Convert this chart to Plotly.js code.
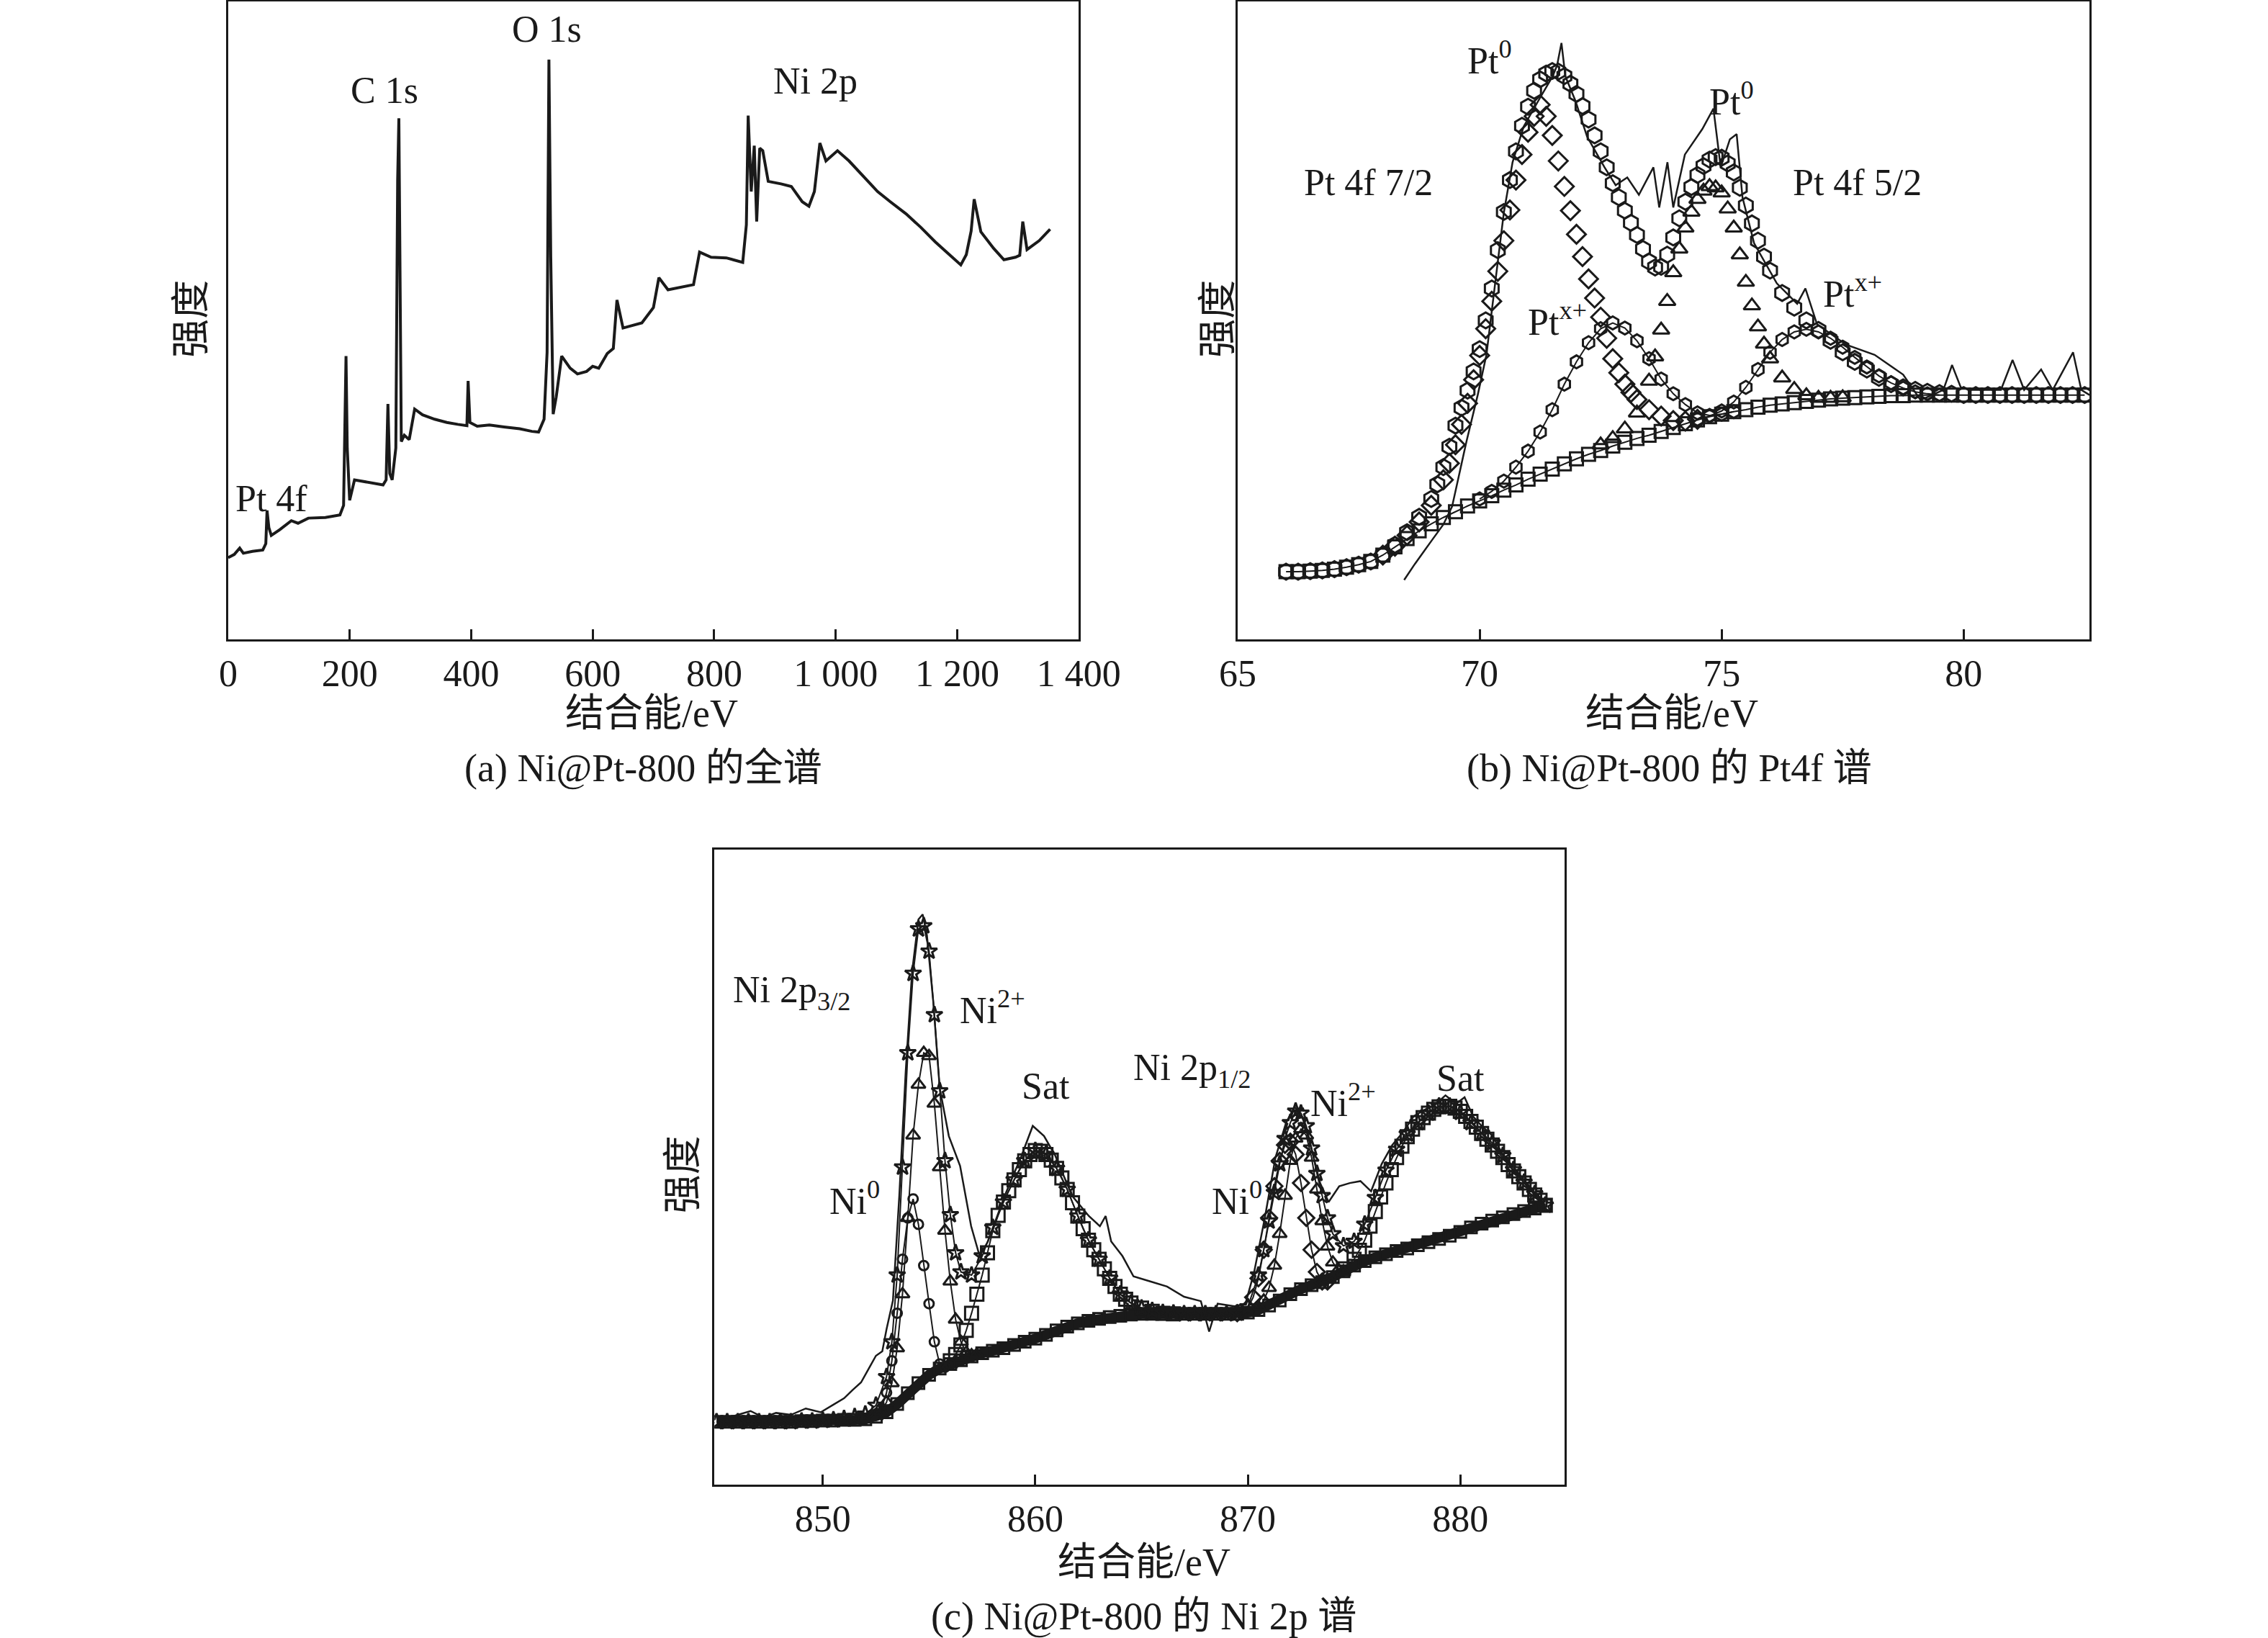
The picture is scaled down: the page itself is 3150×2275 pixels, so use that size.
<!DOCTYPE html>
<html>
<head>
<meta charset="utf-8">
<script src="https://cdn.plot.ly/plotly-3.0.1.min.js"></script>
<style>
  body { margin: 0; background: #fff; }
  #chart { width: 3150px; height: 2275px; }
</style>
</head>
<body>
<div id="chart"></div>
<script>
// (a) survey spectrum, intensity in arbitrary units (0-100)
const surveyE = [0, 10, 19, 25, 40, 57, 62, 64, 67, 71, 85, 104, 115, 132, 160, 184, 190, 192, 194, 196, 200, 208, 230, 255, 260, 263, 266, 270, 276, 279, 281, 283, 285, 290, 298, 307, 320, 340, 360, 378, 393, 395, 398, 410, 430, 454, 480, 500, 511, 520, 525, 528, 531, 535, 540, 549, 563, 575, 590, 600, 610, 624, 634, 640, 650, 665, 681, 700, 709, 724, 745, 766, 776, 795, 820, 847, 853, 856, 861, 866, 870, 875, 880, 889, 910, 927, 945, 956, 965, 974, 984, 1003, 1022, 1045, 1069, 1090, 1116, 1140, 1164, 1185, 1206, 1215, 1223, 1228, 1239, 1260, 1277, 1296, 1303, 1308, 1315, 1335, 1353];
const surveyI = [12.8, 13.3, 14.3, 13.5, 13.8, 14.0, 15.0, 20.2, 17.5, 16.3, 17.2, 18.6, 18.2, 19.0, 19.1, 19.5, 21.0, 35, 44.4, 30, 21.8, 25.0, 24.6, 24.2, 25.0, 36.9, 26, 25.0, 30, 72, 81.7, 58, 31, 32, 31.3, 36.1, 35.2, 34.5, 34.0, 33.7, 33.5, 40.5, 34.0, 33.4, 33.6, 33.3, 33.0, 32.6, 32.5, 34.5, 45, 90.9, 60, 35.3, 38, 44.4, 42.5, 41.6, 42.0, 42.8, 42.5, 44.8, 45.6, 53.2, 48.8, 49.2, 49.6, 52.0, 56.7, 54.8, 55.2, 55.6, 60.7, 59.9, 59.8, 59.1, 65, 82.1, 70.2, 77.4, 65.5, 77.0, 76.6, 71.8, 71.4, 71.0, 68.6, 67.9, 70.2, 77.8, 75.0, 76.6, 75.0, 72.6, 70.2, 68.6, 66.7, 64.6, 62.3, 60.5, 58.7, 60.3, 64, 69.0, 63.9, 61.3, 59.5, 59.9, 60.2, 65.5, 61.1, 62.5, 64.3];

// (b) Pt 4f
const ptRawE = [68.44, 68.66, 69.01, 69.25, 69.43, 69.73, 69.96, 70.14, 70.32, 70.50, 70.68, 70.91, 71.21, 71.51, 71.60, 71.69, 71.77, 71.98, 72.22, 72.58, 72.81, 73.05, 73.29, 73.59, 73.71, 73.88, 74.00, 74.24, 74.60, 74.83, 74.98, 75.17, 75.31, 75.43, 75.67, 76.14, 76.56, 76.73, 76.97, 77.57, 78.16, 78.75, 79.11, 79.58, 79.76, 79.94, 80.18, 80.77, 81.01, 81.25, 81.60, 81.84, 82.26, 82.43, 82.6];
const ptRawI = [9.3, 11.8, 15.5, 18.0, 20.8, 31.1, 38.3, 44.6, 55.8, 66.9, 74.8, 80.4, 84.4, 88.3, 90.0, 93.5, 88.3, 84.4, 78.8, 74.0, 71.2, 72.4, 69.7, 74.0, 67.7, 74.8, 67.7, 76.0, 80.0, 83.2, 74.0, 78.4, 79.2, 69.3, 62.1, 55.8, 52.6, 55.0, 49.4, 46.2, 44.6, 41.5, 37.5, 39.1, 43.0, 39.5, 39.1, 39.1, 43.8, 39.1, 42.3, 39.1, 45.0, 39.1, 38.3];
const ptEnvE = [66.0, 66.25, 66.5, 66.75, 67.0, 67.25, 67.5, 67.75, 68.0, 68.25, 68.5, 68.75, 69.0, 69.125, 69.25, 69.375, 69.5, 69.625, 69.75, 69.875, 70.0, 70.125, 70.25, 70.375, 70.5, 70.625, 70.75, 70.875, 71.0, 71.125, 71.25, 71.375, 71.5, 71.625, 71.75, 71.875, 72.0, 72.125, 72.25, 72.375, 72.5, 72.625, 72.75, 72.875, 73.0, 73.125, 73.25, 73.375, 73.5, 73.625, 73.75, 73.875, 74.0, 74.125, 74.25, 74.375, 74.5, 74.625, 74.75, 74.875, 75.0, 75.125, 75.25, 75.375, 75.5, 75.625, 75.75, 75.875, 76.0, 76.25, 76.5, 76.75, 77.0, 77.25, 77.5, 77.75, 78.0, 78.25, 78.5, 78.75, 79.0, 79.25, 79.5, 79.75, 80.0, 80.25, 80.5, 80.75, 81.0, 81.25, 81.5, 81.75, 82.0, 82.25, 82.5];
const ptEnvelope = [10.6, 10.6, 10.7, 10.8, 11.0, 11.3, 11.7, 12.2, 13.2, 14.8, 16.8, 19.2, 22.0, 24.3, 27.0, 30.2, 33.5, 36.3, 39.0, 42.0, 45.5, 50.0, 55.0, 61.0, 67.0, 72.0, 76.5, 80.5, 83.5, 86.0, 87.8, 88.7, 89.1, 89.0, 88.3, 87.1, 85.5, 83.6, 81.5, 79.0, 76.5, 74.0, 71.5, 69.3, 67.2, 65.3, 63.4, 61.2, 59.2, 58.3, 58.4, 60.3, 63.0, 66.0, 68.6, 70.9, 72.8, 74.2, 75.2, 75.6, 75.5, 74.6, 73.2, 70.8, 68.0, 65.2, 62.5, 60.0, 57.8, 54.3, 52.0, 50.0, 48.5, 46.8, 45.0, 43.5, 42.3, 41.0, 40.0, 39.5, 39.1, 38.8, 38.6, 38.5, 38.3, 38.3, 38.3, 38.3, 38.3, 38.3, 38.3, 38.3, 38.3, 38.3, 38.3];
const ptBgE = [66.0, 66.25, 66.5, 66.75, 67.0, 67.25, 67.5, 67.75, 68.0, 68.25, 68.5, 68.75, 69.0, 69.25, 69.5, 69.75, 70.0, 70.25, 70.5, 70.75, 71.0, 71.25, 71.5, 71.75, 72.0, 72.25, 72.5, 72.75, 73.0, 73.25, 73.5, 73.75, 74.0, 74.25, 74.5, 74.75, 75.0, 75.25, 75.5, 75.75, 76.0, 76.25, 76.5, 76.75, 77.0, 77.25, 77.5, 77.75, 78.0, 78.25, 78.5, 78.75, 79.0, 79.25, 79.5, 79.75, 80.0, 80.25, 80.5, 80.75, 81.0, 81.25, 81.5, 81.75, 82.0, 82.25, 82.5];
const ptBackground = [10.6, 10.6, 10.7, 10.8, 11.0, 11.3, 11.7, 12.2, 13.2, 14.5, 15.8, 17.0, 18.1, 19.1, 20.0, 20.9, 21.7, 22.5, 23.4, 24.2, 25.1, 25.9, 26.7, 27.5, 28.3, 29.0, 29.6, 30.3, 30.9, 31.5, 32.0, 32.6, 33.2, 33.8, 34.4, 34.9, 35.3, 35.7, 36.0, 36.4, 36.7, 36.9, 37.1, 37.3, 37.5, 37.7, 37.8, 37.9, 38.0, 38.1, 38.2, 38.2, 38.3, 38.3, 38.3, 38.3, 38.3, 38.3, 38.3, 38.3, 38.3, 38.3, 38.3, 38.3, 38.3, 38.3, 38.3];
const pt0_72E = [68.0, 68.25, 68.5, 68.75, 69.0, 69.25, 69.375, 69.5, 69.625, 69.75, 69.875, 70.0, 70.125, 70.25, 70.375, 70.5, 70.625, 70.75, 70.875, 71.0, 71.125, 71.25, 71.375, 71.5, 71.625, 71.75, 71.875, 72.0, 72.125, 72.25, 72.375, 72.5, 72.625, 72.75, 72.875, 73.0, 73.125, 73.25, 73.5, 73.75, 74.0, 74.25, 74.5];
const pt0_72I = [13.2, 14.6, 16.3, 18.4, 21.0, 25.0, 27.6, 30.5, 33.7, 37.0, 40.7, 44.5, 48.7, 53.0, 57.7, 62.5, 67.3, 72.0, 76.0, 79.5, 82.0, 83.8, 82.0, 79.0, 75.0, 71.0, 67.2, 63.5, 60.0, 56.5, 53.5, 50.5, 47.2, 44.0, 41.8, 40.0, 38.7, 37.6, 36.0, 35.0, 34.3, 34.2, 34.5];
const ptx_72E = [70.0, 70.25, 70.5, 70.75, 71.0, 71.25, 71.5, 71.75, 72.0, 72.25, 72.5, 72.75, 73.0, 73.25, 73.5, 73.75, 74.0, 74.25, 74.5, 74.75, 75.0, 75.25];
const ptx_72I = [22.0, 23.2, 24.8, 27.0, 29.5, 32.5, 36.0, 40.0, 43.5, 46.5, 48.7, 49.6, 48.8, 46.8, 44.0, 40.8, 38.5, 36.8, 35.5, 35.1, 35.3, 35.7];
const pt0_52E = [72.5, 72.75, 73.0, 73.25, 73.5, 73.625, 73.75, 73.875, 74.0, 74.125, 74.25, 74.375, 74.5, 74.625, 74.75, 74.875, 75.0, 75.125, 75.25, 75.375, 75.5, 75.625, 75.75, 75.875, 76.0, 76.25, 76.5, 76.75, 77.0, 77.25, 77.5];
const pt0_52I = [30.5, 31.5, 33.0, 35.5, 40.5, 44.3, 48.5, 53.0, 57.5, 61.2, 64.5, 67.0, 69.0, 70.3, 71.0, 70.8, 70.0, 67.5, 64.5, 60.3, 56.0, 52.3, 49.0, 46.3, 44.0, 41.0, 39.2, 38.2, 37.8, 37.8, 37.9];
const ptx_52E = [74.5, 74.75, 75.0, 75.25, 75.5, 75.75, 76.0, 76.25, 76.5, 76.75, 77.0, 77.25, 77.5, 77.75, 78.0, 78.25, 78.5, 78.75, 79.0, 79.25, 79.5];
const ptx_52I = [34.5, 35.0, 35.8, 37.2, 39.5, 42.3, 45.0, 47.0, 48.2, 48.6, 48.2, 47.2, 45.8, 44.2, 42.7, 41.3, 40.2, 39.4, 38.8, 38.5, 38.3];

// (c) Ni 2p
const niRawE = [845.0, 845.8, 846.6, 847.2, 847.8, 848.5, 849.2, 849.9, 850.5, 851.0, 851.4, 851.8, 852.2, 852.5, 852.8, 853.0, 853.3, 853.6, 853.9, 854.2, 854.5, 854.7, 854.9, 855.2, 855.5, 855.93, 856.46, 856.98, 857.38, 857.77, 858.56, 859.35, 859.88, 860.41, 860.94, 861.73, 862.52, 863.04, 863.31, 863.57, 864.1, 864.62, 865.41, 866.2, 867.0, 867.79, 868.18, 868.58, 869.37, 869.89, 870.3, 870.8, 871.3, 871.8, 872.2, 872.6, 873.0, 873.4, 873.8, 874.3, 874.8, 875.3, 875.8, 876.3, 876.8, 877.3, 877.8, 878.3, 878.8, 879.3, 879.8, 880.2, 880.6, 881.0, 881.5, 882.0, 882.5, 883.0, 883.5, 884.0];
const niRawI = [10.3, 10.8, 11.6, 10.6, 11.3, 11.0, 12.0, 11.4, 12.6, 13.6, 14.9, 16.1, 18.5, 20.3, 21.0, 24.5, 29.0, 45.5, 65.0, 80.7, 89.0, 89.8, 86.5, 76.0, 62.5, 54.9, 50.2, 40.7, 36.0, 38.3, 45.5, 51.8, 56.5, 54.9, 51.8, 45.5, 42.3, 40.7, 42.3, 38.3, 36.0, 32.8, 32.0, 31.2, 29.6, 28.9, 24.1, 28.5, 28.1, 28.5, 33.5, 42.0, 51.5, 57.0, 59.5, 57.5, 52.8, 47.5, 44.5, 47.0, 47.5, 47.8, 46.2, 50.5, 53.5, 55.5, 58.0, 59.0, 59.8, 61.3, 60.0, 61.0, 58.0, 56.5, 55.0, 52.0, 50.0, 48.0, 46.0, 44.5];
const niEnvE = [845.0, 845.5, 846.0, 846.5, 847.0, 847.5, 848.0, 848.5, 849.0, 849.5, 850.0, 850.5, 851.0, 851.5, 852.0, 852.5, 853.0, 853.25, 853.5, 853.75, 854.0, 854.25, 854.5, 854.75, 855.0, 855.25, 855.5, 855.75, 856.0, 856.25, 856.5, 857.0, 857.5, 858.0, 858.5, 859.0, 859.5, 860.0, 860.5, 861.0, 861.5, 862.0, 862.5, 863.0, 863.5, 864.0, 864.5, 865.0, 865.5, 866.0, 866.5, 867.0, 867.5, 868.0, 868.5, 869.0, 869.5, 870.0, 870.5, 870.75, 871.0, 871.25, 871.5, 871.75, 872.0, 872.25, 872.5, 872.75, 873.0, 873.25, 873.5, 873.75, 874.0, 874.5, 875.0, 875.5, 876.0, 876.5, 877.0, 877.5, 878.0, 878.5, 879.0, 879.5, 880.0, 880.5, 881.0, 881.5, 882.0, 882.5, 883.0, 883.5, 884.0];
const niEnvI = [9.9, 9.9, 9.9, 9.9, 9.9, 9.9, 9.9, 9.9, 10.0, 10.0, 10.1, 10.2, 10.4, 10.7, 11.1, 12.5, 17.0, 22.5, 33.0, 50.0, 68.0, 80.5, 87.5, 88.0, 84.0, 74.0, 62.0, 51.0, 42.5, 36.5, 33.5, 33.0, 36.0, 40.5, 44.5, 48.0, 51.0, 52.6, 52.0, 49.8, 46.5, 42.3, 38.5, 35.5, 32.5, 30.0, 28.6, 27.8, 27.4, 27.1, 27.0, 26.9, 26.9, 26.9, 26.9, 26.9, 27.0, 28.0, 33.0, 37.0, 41.5, 46.0, 50.5, 54.5, 57.0, 58.8, 58.5, 56.5, 53.0, 49.0, 45.5, 42.0, 39.5, 37.6, 38.3, 41.0, 45.2, 49.5, 52.8, 55.2, 57.0, 58.5, 59.6, 59.6, 58.6, 57.0, 55.3, 53.8, 51.8, 49.6, 47.6, 45.8, 44.0];
const niBgE = [845.0, 845.5, 846.0, 846.5, 847.0, 847.5, 848.0, 848.5, 849.0, 849.5, 850.0, 850.5, 851.0, 851.5, 852.0, 852.5, 853.0, 853.5, 854.0, 854.5, 855.0, 855.5, 856.0, 856.5, 857.0, 857.5, 858.0, 858.5, 859.0, 859.5, 860.0, 860.5, 861.0, 861.5, 862.0, 862.5, 863.0, 863.5, 864.0, 864.5, 865.0, 865.5, 866.0, 866.5, 867.0, 867.5, 868.0, 868.5, 869.0, 869.5, 870.0, 870.5, 871.0, 871.5, 872.0, 872.5, 873.0, 873.5, 874.0, 874.5, 875.0, 875.5, 876.0, 876.5, 877.0, 877.5, 878.0, 878.5, 879.0, 879.5, 880.0, 880.5, 881.0, 881.5, 882.0, 882.5, 883.0, 883.5, 884.0];
const niBgI = [9.9, 9.9, 9.9, 9.9, 9.9, 9.9, 9.9, 9.9, 10.0, 10.0, 10.1, 10.1, 10.2, 10.2, 10.3, 10.7, 11.4, 12.7, 14.4, 16.0, 17.3, 18.3, 19.0, 19.6, 20.2, 20.7, 21.1, 21.5, 22.0, 22.5, 23.0, 23.6, 24.3, 24.9, 25.4, 25.8, 26.1, 26.4, 26.6, 26.8, 26.9, 26.9, 26.9, 26.9, 26.9, 26.9, 26.9, 26.9, 26.9, 26.9, 27.1, 27.5, 28.2, 29.0, 30.0, 30.8, 31.4, 31.9, 32.7, 33.6, 34.5, 35.2, 35.8, 36.3, 36.8, 37.2, 37.7, 38.2, 38.7, 39.2, 39.8, 40.5, 41.1, 41.6, 42.1, 42.6, 43.1, 43.5, 44.0];
const ni0_32E = [852.5, 852.75, 853.0, 853.25, 853.5, 853.75, 854.0, 854.25, 854.5, 854.75, 855.0, 855.25, 855.5, 855.75, 856.0];
const ni0_32I = [10.9, 12.0, 14.5, 19.5, 27.0, 35.5, 42.0, 45.0, 41.0, 34.5, 28.5, 22.5, 19.0, 18.5, 19.0];
const ni2_32E = [852.5, 852.75, 853.0, 853.25, 853.5, 853.75, 854.0, 854.25, 854.5, 854.75, 855.0, 855.25, 855.5, 855.75, 856.0, 856.25, 856.5, 856.75, 857.0, 857.25];
const ni2_32I = [10.8, 11.5, 13.0, 16.0, 21.5, 30.0, 42.0, 55.0, 63.0, 68.0, 67.5, 60.0, 50.0, 40.0, 32.0, 26.0, 22.5, 20.8, 20.4, 20.5];
const sat_32E = [856.0, 856.25, 856.5, 856.75, 857.0, 857.25, 857.5, 857.75, 858.0, 858.25, 858.5, 858.75, 859.0, 859.25, 859.5, 859.75, 860.0, 860.25, 860.5, 860.75, 861.0, 861.25, 861.5, 861.75, 862.0, 862.25, 862.5, 862.75, 863.0, 863.25, 863.5, 863.75, 864.0, 864.25, 864.5, 865.0, 865.5, 866.0, 866.5];
const sat_32I = [19.5, 20.5, 22.0, 24.3, 27.0, 30.0, 33.0, 36.5, 40.0, 42.4, 44.5, 46.3, 48.0, 49.6, 51.0, 52.0, 52.6, 52.5, 52.0, 51.1, 49.8, 48.3, 46.5, 44.4, 42.3, 40.3, 38.5, 37.0, 35.5, 34.0, 32.5, 31.2, 30.0, 29.2, 28.6, 27.8, 27.3, 27.0, 26.9];
const ni0_12E = [869.5, 870.0, 870.25, 870.5, 870.75, 871.0, 871.25, 871.5, 871.75, 872.0, 872.25, 872.5, 872.75, 873.0, 873.25, 873.5, 873.75];
const ni0_12I = [27.0, 27.8, 29.5, 32.5, 37.0, 42.0, 47.0, 51.0, 53.5, 54.0, 52.0, 47.5, 42.0, 37.0, 33.5, 32.0, 32.0];
const ni2_12E = [870.5, 870.75, 871.0, 871.25, 871.5, 871.75, 872.0, 872.25, 872.5, 872.75, 873.0, 873.25, 873.5, 873.75, 874.0, 874.25, 874.5];
const ni2_12I = [28.0, 29.0, 31.0, 34.5, 39.5, 45.5, 51.0, 54.5, 56.0, 55.0, 51.5, 46.5, 41.5, 37.5, 35.0, 33.8, 33.6];
const sat_12E = [874.5, 875.0, 875.25, 875.5, 875.75, 876.0, 876.25, 876.5, 876.75, 877.0, 877.25, 877.5, 877.75, 878.0, 878.25, 878.5, 878.75, 879.0, 879.25, 879.5, 879.75, 880.0, 880.25, 880.5, 880.75, 881.0, 881.25, 881.5, 881.75, 882.0, 882.25, 882.5, 882.75, 883.0, 883.25, 883.5, 883.75, 884.0];
const sat_12I = [34.0, 35.5, 36.9, 38.5, 40.7, 43.0, 45.3, 47.5, 49.6, 51.5, 53.3, 54.8, 56.0, 57.0, 57.8, 58.5, 59.1, 59.5, 59.6, 59.6, 59.3, 58.8, 58.0, 57.2, 56.3, 55.3, 54.4, 53.5, 52.5, 51.5, 50.4, 49.4, 48.5, 47.5, 46.5, 45.6, 44.8, 44.0];

const surveyTicks = [0, 200, 400, 600, 800, 1000, 1200, 1400];
const surveyTickText = ["0", "200", "400", "600", "800", "1 000", "1 200", "1 400"];
const pt4fTicks = [65, 70, 75, 80];
const ni2pTicks = [850, 860, 870, 880];

const serif = "Liberation Serif, 'Noto Sans CJK SC', serif";
const black = "#1a1a1a";

const markerTrace = (x, y, xa, ya, symbol, size, withLine) => ({
  x: x,
  y: y,
  xaxis: xa,
  yaxis: ya,
  type: "scatter",
  mode: withLine ? "lines+markers" : "markers",
  line: { color: black, width: 2 },
  marker: { symbol: symbol, size: size, color: black, line: { color: black, width: 3 } },
  showlegend: false,
  hoverinfo: "skip",
});

const rawTrace = (x, y, xa, ya, width) => ({
  x: x, y: y, xaxis: xa, yaxis: ya,
  type: "scatter", mode: "lines",
  line: { color: black, width: width },
  showlegend: false,
});

let traces = [
  rawTrace(surveyE, surveyI, "x", "y", 4),
  // Pt 4f
  markerTrace(ptBgE, ptBackground, "x2", "y2", "square-open", 18, true),
  markerTrace(ptx_72E, ptx_72I, "x2", "y2", "hexagon-open", 18, true),
  markerTrace(ptx_52E, ptx_52I, "x2", "y2", "hexagon-open", 18, true),
  markerTrace(pt0_72E, pt0_72I, "x2", "y2", "diamond-open", 20, false),
  markerTrace(pt0_52E, pt0_52I, "x2", "y2", "triangle-up-open", 20, false),
  markerTrace(ptEnvE, ptEnvelope, "x2", "y2", "hexagon-open", 22, false),
  rawTrace(ptRawE, ptRawI, "x2", "y2", 2.5),
  // Ni 2p
  {
    x: niBgE, y: niBgI, xaxis: "x3", yaxis: "y3",
    type: "scatter", mode: "lines+markers",
    line: { color: black, width: 14 },
    marker: { symbol: "square-open", size: 16, color: black, line: { color: black, width: 3 } },
    showlegend: false,
  },
  markerTrace(sat_32E, sat_32I, "x3", "y3", "square-open", 18, true),
  markerTrace(sat_12E, sat_12I, "x3", "y3", "square-open", 18, true),
  markerTrace(ni0_32E, ni0_32I, "x3", "y3", "circle-open", 13, true),
  markerTrace(ni2_32E, ni2_32I, "x3", "y3", "triangle-up-open", 17, true),
  markerTrace(ni0_12E, ni0_12I, "x3", "y3", "diamond-open", 17, true),
  markerTrace(ni2_12E, ni2_12I, "x3", "y3", "triangle-up-open", 17, true),
  markerTrace(niEnvE, niEnvI, "x3", "y3", "star-open", 17, true),
  rawTrace(niRawE, niRawI, "x3", "y3", 2.5),
];

const xAxisBase = (domain, range, tickvals, ticktext, anchor) => ({
  domain: domain,
  range: range,
  anchor: anchor,
  tickmode: "array",
  tickvals: tickvals,
  ticktext: ticktext,
  ticks: "inside",
  ticklen: 14,
  tickwidth: 3,
  tickcolor: black,
  showline: true,
  linewidth: 3,
  linecolor: black,
  mirror: true,
  showgrid: false,
  zeroline: false,
  tickfont: { family: serif, size: 52, color: black },
});

const yAxisBase = (domain, anchor) => ({
  domain: domain,
  range: [0, 100],
  anchor: anchor,
  showticklabels: false,
  ticks: "",
  showline: true,
  linewidth: 3,
  linecolor: black,
  mirror: true,
  showgrid: false,
  zeroline: false,
});

const label = (text, x, y, xref, yref, size) => ({
  text: text, x: x, y: y, xref: xref, yref: yref,
  xanchor: "center", yanchor: "middle",
  showarrow: false,
  font: { family: serif, size: size || 52, color: black },
});

const yTitle = (x, y) => ({
  text: "强度", x: x, y: y, xref: "paper", yref: "paper",
  xanchor: "center", yanchor: "middle",
  showarrow: false, textangle: -90,
  font: { family: serif, size: 54, color: black },
});

let layout = {
  width: 3150,
  height: 2275,
  margin: { l: 0, r: 0, t: 0, b: 0 },
  paper_bgcolor: "white",
  plot_bgcolor: "white",
  font: { family: serif, color: black },
  xaxis: xAxisBase([0.1006, 0.4756], [0, 1400], surveyTicks, surveyTickText, "y"),
  yaxis: yAxisBase([0.6097, 0.9991], "x"),
  xaxis2: xAxisBase([0.5457, 0.9213], [65, 82.6], pt4fTicks, pt4fTicks.map(String), "y2"),
  yaxis2: yAxisBase([0.6097, 0.9991], "x2"),
  xaxis3: xAxisBase([0.315, 0.6898], [844.9, 884.9], ni2pTicks, ni2pTicks.map(String), "y3"),
  yaxis3: yAxisBase([0.0936, 0.4813], "x3"),
  annotations: [
    label("O 1s", 524, 95.7, "x", "y"),
    label("C 1s", 257, 86.1, "x", "y"),
    label("Ni 2p", 967, 87.5, "x", "y"),
    label("Pt 4f", 71, 22.1, "x", "y"),
    label("Pt<sup>0</sup>", 70.2, 91.1, "x2", "y2"),
    label("Pt<sup>0</sup>", 75.2, 84.7, "x2", "y2"),
    label("Pt 4f 7/2", 67.7, 71.6, "x2", "y2"),
    label("Pt 4f 5/2", 77.8, 71.6, "x2", "y2"),
    label("Pt<sup>x+</sup>", 71.6, 50.2, "x2", "y2"),
    label("Pt<sup>x+</sup>", 77.7, 54.6, "x2", "y2"),
    label("Ni 2p<sub>3/2</sub>", 848.55, 77.5, "x3", "y3"),
    label("Ni<sup>2+</sup>", 858.0, 75.1, "x3", "y3"),
    label("Sat", 860.5, 62.8, "x3", "y3"),
    label("Ni 2p<sub>1/2</sub>", 867.4, 65.2, "x3", "y3"),
    label("Ni<sup>0</sup>", 851.5, 45.1, "x3", "y3"),
    label("Ni<sup>0</sup>", 869.5, 45.1, "x3", "y3"),
    label("Ni<sup>2+</sup>", 874.5, 60.5, "x3", "y3"),
    label("Sat", 880.0, 64.0, "x3", "y3"),
    // axis titles
    label("结合能/eV", 0.2873, 0.5644, "paper", "paper", 54),
    label("结合能/eV", 0.737, 0.5644, "paper", "paper", 54),
    label("结合能/eV", 0.5044, 0.0462, "paper", "paper", 54),
    yTitle(0.0844, 0.8053),
    yTitle(0.5371, 0.8053),
    yTitle(0.3013, 0.283),
    // panel captions
    label("(a) Ni@Pt-800 的全谱", 0.2838, 0.531, "paper", "paper", 54),
    label("(b) Ni@Pt-800 的 Pt4f 谱", 0.7359, 0.531, "paper", "paper", 54),
    label("(c) Ni@Pt-800 的 Ni 2p 谱", 0.5044, 0.0132, "paper", "paper", 54),
  ],
};

let config = { displayModeBar: false, staticPlot: true };
Plotly.newPlot("chart", traces, layout, config);
</script>
</body>
</html>
